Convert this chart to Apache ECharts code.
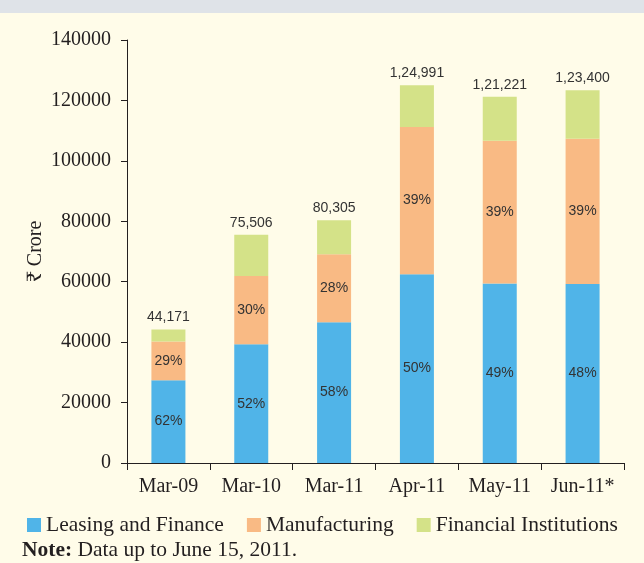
<!DOCTYPE html>
<html>
<head>
<meta charset="utf-8">
<script src="https://cdn.jsdelivr.net/npm/echarts@6/dist/echarts.min.js"></script>
<style>
html,body{margin:0;padding:0;background:#FFFCE9;}
#chart{width:644px;height:563px;}
</style>
</head>
<body>
<div id="chart"></div>
<script>
const categories = ['Mar-09', 'Mar-10', 'Mar-11', 'Apr-11', 'May-11', 'Jun-11*'];
const leasing = [27386, 39263, 46577, 62496, 59398, 59232];
const manufacturing = [12810, 22652, 22485, 48746, 47276, 48126];
const financial = [3975, 13591, 11243, 13749, 14547, 16042];
const leasingPct = ['62%', '52%', '58%', '50%', '49%', '48%'];
const manufacturingPct = ['29%', '30%', '28%', '39%', '39%', '39%'];
const totalLabels = ['44,171', '75,506', '80,305', '1,24,991', '1,21,221', '1,23,400'];
const seriesNames = ['Leasing and Finance', 'Manufacturing', 'Financial Institutions'];
const yMin = 0, yMax = 140000, yInterval = 20000;

const serif = '"Liberation Serif", "Noto Serif", "Noto Sans", serif';
const sans = '"Liberation Sans", "Noto Sans", sans-serif';
const ink = '#231F20';

const chart = echarts.init(document.getElementById('chart'));
const barLabel = (arr) => ({
  show: true, position: 'inside', color: '#333',
  fontFamily: sans, fontSize: 14,
  formatter: (p) => arr[p.dataIndex]
});
chart.setOption({
  backgroundColor: '#FFFCE9',
  animation: false,
  grid: { left: 127, right: 20, top: 40, bottom: 100, containLabel: false },
  legend: {
    data: seriesNames,
    left: 22, top: 509,
    icon: 'rect', itemWidth: 14, itemHeight: 14, itemGap: 23,
    textStyle: { fontFamily: serif, fontSize: 21.5, color: ink }
  },
  xAxis: {
    type: 'category', data: categories,
    axisLine: { lineStyle: { color: ink, width: 1 } },
    axisTick: { show: true, length: 7, lineStyle: { color: ink } },
    axisLabel: { fontFamily: serif, fontSize: 20, color: ink, margin: 14 }
  },
  yAxis: {
    type: 'value', min: yMin, max: yMax, interval: yInterval,
    name: '₹ Crore', nameLocation: 'middle', nameGap: 91, nameRotate: 90,
    nameMoveOverlap: false,
    nameTextStyle: { fontFamily: serif, fontSize: 20, color: ink, verticalAlign: 'middle' },
    axisLine: { show: true, lineStyle: { color: ink, width: 1 } },
    axisTick: { show: true, length: 6, lineStyle: { color: ink } },
    axisLabel: { fontFamily: serif, fontSize: 20, color: ink, margin: 16,
      formatter: (v) => String(v) },
    splitLine: { show: false }
  },
  series: [
    { name: seriesNames[0], type: 'bar', stack: 'a', data: leasing, barWidth: 34,
      itemStyle: { color: '#50B4E8' }, label: barLabel(leasingPct) },
    { name: seriesNames[1], type: 'bar', stack: 'a', data: manufacturing, barWidth: 34,
      itemStyle: { color: '#F9BA84' }, label: barLabel(manufacturingPct) },
    { name: seriesNames[2], type: 'bar', stack: 'a', data: financial, barWidth: 34,
      itemStyle: { color: '#D4E288' },
      label: { show: true, position: 'top', distance: 5, color: '#333', fontFamily: sans, fontSize: 14,
        formatter: (p) => totalLabels[p.dataIndex] } }
  ],
  graphic: [
    { type: 'rect', left: 0, top: 0, shape: { width: 644, height: 13 }, style: { fill: '#DFE3E8' }, silent: true },
    { type: 'text', left: 22, top: 539,
      style: {
        text: '{b|Note:} Data up to June 15, 2011.',
        font: '21.5px ' + serif, fill: ink,
        rich: { b: { fontWeight: 'bold', fontFamily: serif, fontSize: 21.5, fill: ink } }
      } }
  ]
});
</script>
</body>
</html>
